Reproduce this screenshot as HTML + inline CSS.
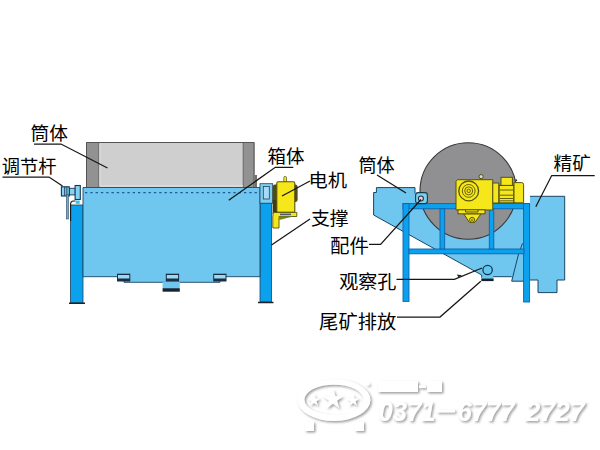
<!DOCTYPE html>
<html><head><meta charset="utf-8"><title>diagram</title>
<style>html,body{margin:0;padding:0;background:#fff;}body{width:600px;height:450px;overflow:hidden;font-family:"Liberation Sans",sans-serif;}svg{display:block}</style>
</head><body>
<svg width="600" height="450" viewBox="0 0 600 450">
<defs><filter id="sh" x="-5%" y="-20%" width="110%" height="140%"><feDropShadow dx="1.5" dy="1.5" stdDeviation="0.8" flood-color="#7c7c7c" flood-opacity="0.75"/></filter></defs>
<rect width="600" height="450" fill="#fff"/>
<g id="left">
<rect x="86" y="142" width="168.5" height="45.5" fill="#cfcfcf"/>
<rect x="86" y="142" width="13" height="45.5" fill="#929292"/>
<rect x="243" y="142" width="11.5" height="45.5" fill="#929292"/>
<path d="M86.5 187.5V142.5H254V187.5" fill="none" stroke="#555" stroke-width="1"/>
<path d="M98.8 143V187M243.2 143V187" stroke="#6a6a6a" stroke-width="1" fill="none"/>
<path d="M100 143.5V186H243" stroke="#e4e4e4" stroke-width="1" fill="none"/>
<rect x="254.5" y="175" width="2.5" height="12" fill="#707070"/>
<rect x="70.5" y="205" width="12.5" height="98" fill="#0ca1ec" stroke="#1c4563" stroke-width="0.8"/>
<rect x="260" y="203" width="11.5" height="99" fill="#0ca1ec" stroke="#1c4563" stroke-width="0.8"/>
<path d="M69 303.3H85M258 302.5H273.5" stroke="#222" stroke-width="1.4"/>
<path d="M83 187.5H260V276.7H220V282.3H124V276.7H83Z" fill="#6fc6ee" stroke="#1c4563" stroke-width="0.9"/>
<path d="M85 192.6H259" stroke="#1a5a96" stroke-width="1.1" stroke-dasharray="2.3 3" fill="none"/>
<rect x="162.6" y="282" width="17.2" height="7" fill="#6fc6ee"/>
<rect x="162.6" y="288.3" width="17.2" height="3.4" fill="#1a2230"/>
<rect x="117" y="273.7" width="13.3" height="7.8" fill="#1b2f44"/>
<rect x="118" y="275" width="11.3" height="3.5" fill="#9bd8f4"/>
<rect x="165.8" y="273.7" width="13.3" height="7.8" fill="#1b2f44"/>
<rect x="166.8" y="275" width="11.3" height="3.5" fill="#9bd8f4"/>
<rect x="213.2" y="273.7" width="13.3" height="7.8" fill="#1b2f44"/>
<rect x="214.2" y="275" width="11.3" height="3.5" fill="#9bd8f4"/>
<rect x="69.3" y="188.3" width="6" height="6.6" fill="#86d2f2" stroke="#143850" stroke-width="0.9"/>
<rect x="61.4" y="186.8" width="7.9" height="9.2" fill="#86d2f2" stroke="#143850" stroke-width="1.1"/>
<path d="M64.7 186.8V196M66.9 186.8V196" stroke="#143850" stroke-width="0.9"/>
<rect x="75.1" y="185.5" width="5.2" height="14" fill="#86d2f2" stroke="#143850" stroke-width="1.1"/>
<rect x="66.4" y="194.5" width="2" height="24.5" fill="#6fa9cf" stroke="#2d4f68" stroke-width="0.6"/>
<path d="M70.6 221V204Q70.6 201 73.5 201H75.5" fill="none" stroke="#181818" stroke-width="1.1"/>
<rect x="75.7" y="200.6" width="4" height="3.2" fill="#38c4ea"/>
<rect x="260" y="183.7" width="12.7" height="19.5" fill="#7fcdf0" stroke="#1c4563" stroke-width="0.8"/>
<rect x="263.3" y="186.5" width="6" height="12.5" fill="#a5dcf5" stroke="#1c4563" stroke-width="0.8"/>
<rect x="272.6" y="184.5" width="25" height="17.5" rx="2.5" fill="#4f4c18"/>
<rect x="272.6" y="200" width="5" height="14" fill="#3e3c14"/>
<rect x="283.8" y="176.4" width="2.7" height="6" rx="1.2" fill="#f6e71a" stroke="#55520f" stroke-width="0.7"/>
<rect x="276.8" y="181.8" width="18" height="30.6" rx="1.5" fill="#f6e71a" stroke="#55520f" stroke-width="1.1"/>
<path d="M273.3 212.4H296.8V216.5H279V228H272.8V216Z" fill="#f6e71a" stroke="#55520f" stroke-width="0.9"/>
<path d="M280 213.6H291V215.2H280Z" fill="#4a5a6a"/>
<path d="M279.2 216.6H293L279.2 220Z" fill="#7a8020"/>
</g>
<g id="right">
<path d="M376.4 187.6H415V204H530V196.3H564.7V280H557V292.6H538V280H530H524V281.2H511.7V276.7H493.3V278H481.7V275L373.6 215V192.5H376.4Z" fill="#6fc6ee"/>
<circle cx="468.2" cy="191" r="48.2" fill="#909093" stroke="#383838" stroke-width="1.1"/>
<path d="M415 193.5V187.6H376.4V192.5H373.6V215L481.7 275V278" fill="none" stroke="#1c4563" stroke-width="1"/>
<path d="M530 196.3H564.7V280H557V292.6H538V280H530" fill="none" stroke="#1c4563" stroke-width="1"/>
<path d="M522.5 243.3L518.3 255L511.7 281.2H524" fill="none" stroke="#1c4563" stroke-width="1"/>
<path d="M493.3 276.7H511.7" fill="none" stroke="#1c4563" stroke-width="1"/>
<g fill="#0ca1ec" stroke="#0f62ad" stroke-width="0.9">
<rect x="403" y="203.6" width="126" height="5.2"/>
<rect x="403" y="203.6" width="6" height="97.8"/>
<rect x="523.6" y="203.6" width="6" height="98.4"/>
<rect x="409" y="249" width="115" height="4.8"/>
<rect x="440" y="208.8" width="4.7" height="40.2"/>
<rect x="489.3" y="208.8" width="4.5" height="40.2"/>
</g>
<rect x="415.6" y="192.6" width="11.8" height="11" rx="2.6" fill="#7fd0ea" stroke="#15384f" stroke-width="1.1"/>
<circle cx="420.9" cy="198.5" r="2.5" fill="#f6ccd2" stroke="#15384f" stroke-width="1.1"/>
<rect x="481.5" y="277" width="12" height="2" fill="#6fc6ee"/>
<rect x="481.3" y="278.6" width="12.3" height="2.5" fill="#16202c"/>
<circle cx="487.6" cy="270" r="4.7" fill="#62c6ee" stroke="#103450" stroke-width="1.25"/>
<circle cx="481.1" cy="176.6" r="2.1" fill="#d8d8d0" stroke="#55520f" stroke-width="1"/>
<path d="M456 181.2L457.5 179.7H492.8V210H456Z" fill="#f6e71a" stroke="#55520f" stroke-width="1"/>
<circle cx="468.7" cy="190.9" r="9.9" fill="none" stroke="#55520f" stroke-width="1.3"/>
<circle cx="468.7" cy="190.9" r="6.4" fill="none" stroke="#55520f" stroke-width="0.9"/>
<circle cx="468.7" cy="190.9" r="4.0" fill="none" stroke="#55520f" stroke-width="0.9"/>
<circle cx="468.7" cy="190.9" r="1.7" fill="none" stroke="#55520f" stroke-width="0.9"/>
<path d="M463.7 213.8L469.3 222.3H475L481 213.8Z" fill="#f6e71a" stroke="#55520f" stroke-width="1"/>
<rect x="458" y="209.8" width="27" height="4" fill="#f6e71a" stroke="#55520f" stroke-width="1"/>
<path d="M465.5 210V212H478V210" fill="none" stroke="#55520f" stroke-width="1"/>
<circle cx="472.1" cy="219.8" r="2.5" fill="#f6e71a" stroke="#55520f" stroke-width="1"/>
<circle cx="472.1" cy="219.8" r="0.9" fill="#cfc84a" stroke="#55520f" stroke-width="0.6"/>
<rect x="492.8" y="183" width="6" height="20" fill="#f6e71a" stroke="#55520f" stroke-width="1"/>
<rect x="499.2" y="185.4" width="14.6" height="17.4" fill="#f6e71a" stroke="#55520f" stroke-width="1"/>
<path d="M500 190H513M500 195.2H513M500 198.5H513M500 200.8H513" stroke="#55520f" stroke-width="0.9" fill="none"/>
<rect x="501" y="177.3" width="11.4" height="8.1" fill="#f6e71a" stroke="#55520f" stroke-width="1"/>
<path d="M514 182.6H521.6Q523.6 182.6 523.6 184.6V202.8H514Z" fill="#f6e71a" stroke="#55520f" stroke-width="1"/>
<circle cx="516.2" cy="180.3" r="1" fill="#333"/>
</g>
<g fill="none" stroke="#161616" stroke-width="1.25">
<path d="M34 144H61L107.5 168"/>
<path d="M2.5 177H49L62.5 186"/>
<path d="M293.3 167.3H275.3L228.7 200.3"/>
<path d="M310 181L282 196"/>
<path d="M310 219L271.5 245"/>
<path d="M377 175L406 193"/>
<path d="M369 244.4H380.6L421 199.5"/>
<path d="M396.5 279.4H454.4L482 268"/>
<path d="M397 317H440L480.8 281.2"/>
<path d="M594.7 175.5H551.7L535.8 206.7"/>
</g>
<path d="M462 275.2L456.8 274.6L458.6 277.4Z" fill="#222"/>
<g fill="#000" font-family="'Liberation Sans', 'Noto Sans CJK SC', sans-serif">
<text x="30.4" y="139.5" font-size="18.5" textLength="37.5" lengthAdjust="spacingAndGlyphs">筒体</text>
<text x="1.8" y="172.5" font-size="18.1" textLength="54.8" lengthAdjust="spacingAndGlyphs">调节杆</text>
<text x="267.5" y="163.2" font-size="18.1" textLength="36.9" lengthAdjust="spacingAndGlyphs">箱体</text>
<text x="308.4" y="186.6" font-size="18.2" textLength="38.6" lengthAdjust="spacingAndGlyphs">电机</text>
<text x="310.9" y="225.2" font-size="18.4" textLength="37.7" lengthAdjust="spacingAndGlyphs">支撑</text>
<text x="358.4" y="172.1" font-size="18" textLength="36.3" lengthAdjust="spacingAndGlyphs">筒体</text>
<text x="330" y="252.5" font-size="18.9" textLength="38.8" lengthAdjust="spacingAndGlyphs">配件</text>
<text x="339.2" y="288.5" font-size="18.8" textLength="57.1" lengthAdjust="spacingAndGlyphs">观察孔</text>
<text x="319.1" y="328.6" font-size="19.1" textLength="77.2" lengthAdjust="spacingAndGlyphs">尾矿排放</text>
<text x="553.5" y="169.5" font-size="18.5" textLength="37.3" lengthAdjust="spacingAndGlyphs">精矿</text>
</g>

<g id="wm" filter="url(#sh)" fill="#fff" font-family="Liberation Sans, sans-serif">
<path fill-rule="evenodd" d="M297.5 400A36.5 21 0 1 0 370.5 400A36.5 21 0 1 0 297.5 400ZM304.5 399.7A29.5 15 0 1 0 363.5 399.7A29.5 15 0 1 0 304.5 399.7Z"/>
<path d="M333 389l2.6 7.2h7.6l-6.1 4.6 2.3 7.4-6.4-4.5-6.4 4.5 2.3-7.4-6.1-4.6h7.6z"/>
<path d="M314 394l1.6 4.4h4.7l-3.8 2.8 1.4 4.5-3.9-2.7-3.9 2.7 1.4-4.5-3.8-2.8h4.7z"/>
<path d="M353 394l1.6 4.4h4.7l-3.8 2.8 1.4 4.5-3.9-2.7-3.9 2.7 1.4-4.5-3.8-2.8h4.7z"/>
<rect x="305" y="421.5" width="9" height="9.5"/><rect x="355" y="421.5" width="9" height="9.5"/>
<circle cx="368" cy="384" r="1.6"/>
<rect x="378" y="381" width="40" height="11"/><rect x="419" y="385.5" width="7" height="2.5"/><rect x="427" y="381" width="15" height="11"/>
<text x="378.5" y="421" font-size="28" font-weight="bold" font-style="italic" textLength="57" lengthAdjust="spacingAndGlyphs">0371</text>
<rect x="437" y="409.5" width="18" height="3"/>
<text x="457.5" y="421" font-size="28" font-weight="bold" font-style="italic" textLength="57" lengthAdjust="spacingAndGlyphs">6777</text>
<text x="525.5" y="421" font-size="28" font-weight="bold" font-style="italic" textLength="59" lengthAdjust="spacingAndGlyphs">2727</text>
</g>
</svg>
</body></html>
